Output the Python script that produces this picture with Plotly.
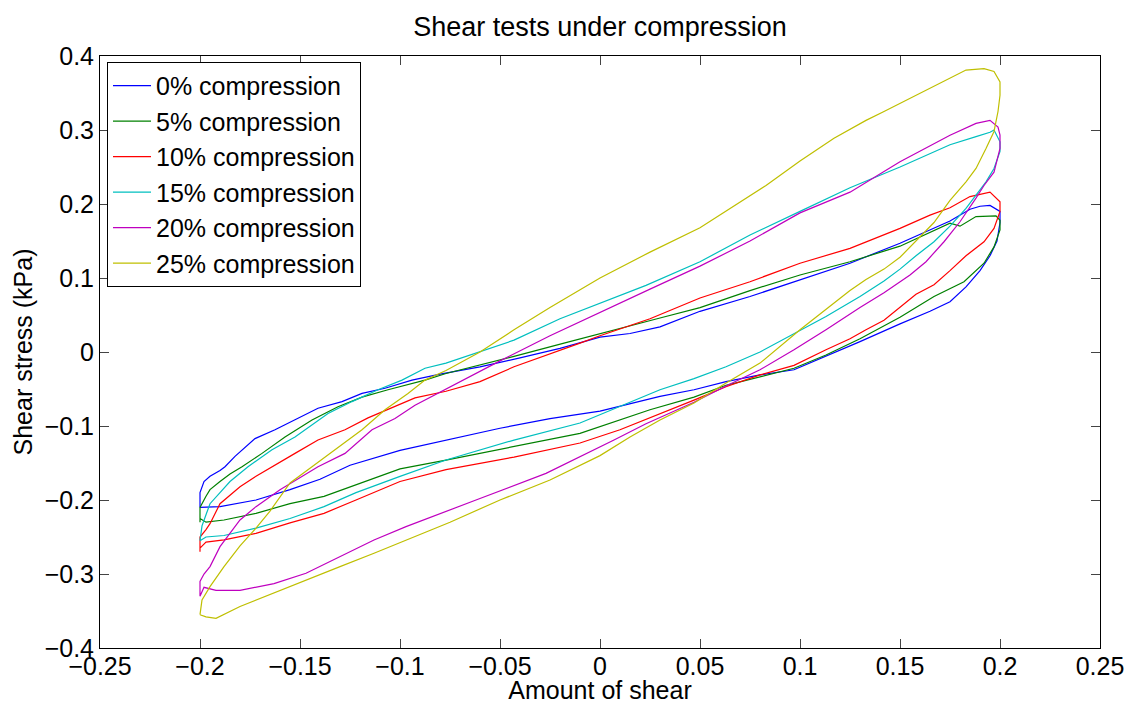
import plotly.graph_objects as go

# ---------------- data ----------------
series_names = ["0% compression", "5% compression", "10% compression",
                "15% compression", "20% compression", "25% compression"]
series_colors = ["#0000ff", "#008000", "#ff0000", "#00bfbf", "#bf00bf", "#bfbf00"]

x_tick_values = [-0.25, -0.2, -0.15, -0.1, -0.05, 0, 0.05, 0.1, 0.15, 0.2, 0.25]
x_tick_labels = ["\u22120.25", "\u22120.2", "\u22120.15", "\u22120.1", "\u22120.05", "0",
                 "0.05", "0.1", "0.15", "0.2", "0.25"]
y_tick_values = [-0.4, -0.3, -0.2, -0.1, 0, 0.1, 0.2, 0.3, 0.4]
y_tick_labels = ["\u22120.4", "\u22120.3", "\u22120.2", "\u22120.1", "0", "0.1", "0.2", "0.3", "0.4"]

# 0% compression
shear_0 = [-0.2, -0.2, -0.198, -0.195, -0.19, -0.1875, -0.1825, -0.1725, -0.1625, -0.1525,
           -0.141, -0.129, -0.119, -0.1075, -0.094, -0.08, -0.06, -0.04, -0.02, 0.0,
           0.015, 0.03, 0.05, 0.075, 0.1, 0.125, 0.15, 0.165, 0.175, 0.185, 0.19, 0.195, 0.2,
           0.2, 0.1985, 0.195, 0.19, 0.183, 0.175, 0.165, 0.15, 0.13, 0.113, 0.097, 0.08,
           0.063, 0.047, 0.03, 0.0, -0.025, -0.05, -0.077, -0.1, -0.125, -0.14, -0.155,
           -0.172, -0.19, -0.2]
stress_0 = [-0.21, -0.19, -0.175, -0.168, -0.16, -0.155, -0.141, -0.117, -0.105, -0.092,
            -0.076, -0.067, -0.056, -0.049, -0.038, -0.03, -0.02, -0.008, 0.005, 0.02,
            0.025, 0.034, 0.055, 0.075, 0.098, 0.12, 0.147, 0.165, 0.177, 0.193, 0.197, 0.198, 0.19,
            0.175, 0.15, 0.13, 0.11, 0.088, 0.068, 0.055, 0.038, 0.014, -0.006, -0.024, -0.031,
            -0.04, -0.051, -0.06, -0.08, -0.09, -0.103, -0.119, -0.133, -0.153, -0.172, -0.186,
            -0.2, -0.209, -0.21]

# 5% compression
shear_5 = [-0.2, -0.2, -0.197, -0.195, -0.19, -0.185, -0.179, -0.169, -0.1575, -0.144,
           -0.131, -0.119, -0.106, -0.0875, -0.077, -0.06, -0.043, -0.018, 0.0, 0.03,
           0.05, 0.075, 0.1, 0.125, 0.15, 0.165, 0.175, 0.18, 0.188, 0.198, 0.2,
           0.2, 0.197, 0.192, 0.182, 0.167, 0.15, 0.13, 0.113, 0.097, 0.08, 0.063, 0.047,
           0.025, -0.01, -0.043, -0.077, -0.1, -0.122, -0.138, -0.155, -0.172, -0.188,
           -0.197, -0.2]
stress_5 = [-0.23, -0.21, -0.195, -0.186, -0.175, -0.165, -0.155, -0.137, -0.115, -0.092,
            -0.074, -0.061, -0.051, -0.038, -0.029, -0.018, -0.006, 0.012, 0.025, 0.046,
            0.06, 0.083, 0.104, 0.122, 0.143, 0.162, 0.174, 0.17, 0.183, 0.184, 0.178,
            0.165, 0.142, 0.12, 0.095, 0.075, 0.047, 0.018, -0.004, -0.022, -0.034, -0.045, -0.061,
            -0.078, -0.11, -0.128, -0.146, -0.158, -0.18, -0.195, -0.205, -0.218, -0.227,
            -0.23, -0.225]

# 10% compression
shear_10 = [-0.2, -0.2, -0.197, -0.195, -0.19, -0.18, -0.172, -0.164, -0.1525, -0.141,
            -0.1275, -0.116, -0.1025, -0.0925, -0.077, -0.06, -0.043, -0.025, -0.01, 0.0,
            0.025, 0.05, 0.075, 0.1, 0.125, 0.15, 0.165, 0.175, 0.185, 0.195, 0.2,
            0.2, 0.197, 0.192, 0.183, 0.175, 0.167, 0.158, 0.15, 0.142, 0.133, 0.125, 0.113,
            0.097, 0.08, 0.063, 0.047, 0.03, 0.01, -0.01, -0.043, -0.077, -0.1, -0.122,
            -0.138, -0.155, -0.172, -0.188, -0.197, -0.2]
stress_10 = [-0.27, -0.25, -0.24, -0.232, -0.205, -0.182, -0.168, -0.155, -0.137, -0.119,
             -0.105, -0.089, -0.074, -0.062, -0.053, -0.04, -0.02, -0.003, 0.012, 0.022,
             0.045, 0.073, 0.095, 0.12, 0.14, 0.167, 0.185, 0.195, 0.21, 0.216, 0.203,
             0.19, 0.167, 0.149, 0.13, 0.11, 0.091, 0.078, 0.061, 0.043, 0.03, 0.018, 0.003,
             -0.018, -0.031, -0.047, -0.065, -0.083, -0.105, -0.123, -0.142, -0.159, -0.175, -0.2,
             -0.218, -0.231, -0.245, -0.254, -0.257, -0.265]

# 15% compression
shear_15 = [-0.2, -0.199, -0.197, -0.195, -0.19, -0.185, -0.176, -0.164, -0.1525, -0.136,
            -0.124, -0.111, -0.099, -0.0875, -0.077, -0.06, -0.043, -0.02, 0.0, 0.023,
            0.05, 0.075, 0.1, 0.125, 0.15, 0.175, 0.188, 0.195, 0.197, 0.2,
            0.2, 0.197, 0.193, 0.188, 0.183, 0.175, 0.167, 0.158, 0.15, 0.142, 0.13, 0.113,
            0.097, 0.08, 0.063, 0.047, 0.03, 0.015, -0.01, -0.043, -0.077, -0.1, -0.122,
            -0.138, -0.155, -0.172, -0.188, -0.197, -0.2]
stress_15 = [-0.255, -0.235, -0.22, -0.205, -0.19, -0.175, -0.155, -0.132, -0.115, -0.083,
             -0.067, -0.051, -0.038, -0.022, -0.015, 0.0, 0.016, 0.045, 0.066, 0.09,
             0.122, 0.158, 0.19, 0.222, 0.25, 0.28, 0.291, 0.297, 0.3, 0.284,
             0.271, 0.248, 0.23, 0.212, 0.194, 0.17, 0.149, 0.13, 0.112, 0.096, 0.075, 0.048,
             0.025, 0.0, -0.02, -0.036, -0.051, -0.068, -0.096, -0.119, -0.146, -0.168, -0.19,
             -0.209, -0.225, -0.238, -0.248, -0.25, -0.255]

# 20% compression
shear_20 = [-0.2, -0.2, -0.198, -0.195, -0.19, -0.18, -0.172, -0.16, -0.141, -0.1275,
            -0.114, -0.1025, -0.0925, -0.075, -0.05, -0.025, 0.0, 0.025, 0.05, 0.075,
            0.1, 0.125, 0.15, 0.175, 0.188, 0.195, 0.199, 0.2,
            0.2, 0.197, 0.192, 0.188, 0.18, 0.172, 0.163, 0.155, 0.142, 0.13, 0.113, 0.097,
            0.08, 0.063, 0.047, 0.023, 0.007, -0.027, -0.062, -0.08, -0.097, -0.113, -0.13,
            -0.147, -0.163, -0.18, -0.192, -0.198, -0.2]
stress_20 = [-0.33, -0.31, -0.3, -0.29, -0.263, -0.227, -0.209, -0.186, -0.155, -0.137,
             -0.105, -0.09, -0.072, -0.047, -0.012, 0.022, 0.054, 0.085, 0.116, 0.15,
             0.188, 0.216, 0.257, 0.293, 0.309, 0.313, 0.304, 0.293,
             0.275, 0.243, 0.225, 0.208, 0.176, 0.149, 0.122, 0.104, 0.08, 0.06, 0.03, 0.003,
             -0.024, -0.046, -0.068, -0.097, -0.119, -0.164, -0.2, -0.218, -0.236, -0.254, -0.277,
             -0.299, -0.313, -0.322, -0.322, -0.318, -0.33]

# 25% compression
shear_25 = [-0.2, -0.199, -0.195, -0.188, -0.18, -0.172, -0.165, -0.155, -0.144, -0.1325,
            -0.119, -0.1075, -0.096, -0.0875, -0.077, -0.06, -0.043, -0.025, -0.01, 0.0,
            0.025, 0.05, 0.083, 0.1, 0.117, 0.133, 0.142, 0.158, 0.175, 0.183, 0.192, 0.197,
            0.2, 0.2,
            0.199, 0.197, 0.193, 0.188, 0.183, 0.175, 0.167, 0.158, 0.15, 0.142, 0.133, 0.125,
            0.117, 0.1, 0.08, 0.063, 0.047, 0.03, 0.015, 0.0, -0.025, -0.05, -0.075, -0.1,
            -0.113, -0.13, -0.147, -0.163, -0.18, -0.192, -0.197, -0.2]
stress_25 = [-0.355, -0.335, -0.317, -0.29, -0.262, -0.238, -0.215, -0.177, -0.155, -0.132,
             -0.105, -0.078, -0.056, -0.038, -0.025, 0.0, 0.03, 0.06, 0.084, 0.1,
             0.135, 0.168, 0.225, 0.258, 0.289, 0.313, 0.325, 0.347, 0.37, 0.381, 0.383, 0.379,
             0.365, 0.347,
             0.325, 0.298, 0.275, 0.248, 0.23, 0.205, 0.175, 0.15, 0.128, 0.112, 0.098, 0.083,
             0.066, 0.03, -0.015, -0.042, -0.069, -0.092, -0.115, -0.14, -0.173, -0.2, -0.23, -0.258,
             -0.272, -0.29, -0.308, -0.326, -0.344, -0.36, -0.358, -0.355]

shear_data = [shear_0, shear_5, shear_10, shear_15, shear_20, shear_25]
stress_data = [stress_0, stress_5, stress_10, stress_15, stress_20, stress_25]

# ---------------- figure ----------------
FONT = "Liberation Sans, Arial, Helvetica, sans-serif"

fig = go.Figure()
for name, color, xs, ys in zip(series_names, series_colors, shear_data, stress_data):
    fig.add_trace(go.Scatter(x=xs, y=ys, mode="lines", name=name,
                             line=dict(color=color, width=1.2)))

axis_common = dict(
    showline=True, linecolor="black", linewidth=1, mirror="ticks",
    ticks="inside", ticklen=9, tickcolor="#444444", tickwidth=1,
    showgrid=False, zeroline=False, automargin=False,
    tickfont=dict(family=FONT, size=25, color="black"),
)

fig.update_layout(
    width=1135, height=704,
    margin=dict(l=100, r=35, t=56, b=56),
    paper_bgcolor="white", plot_bgcolor="white",
    font=dict(family=FONT, color="black", size=25),
    title=dict(text="Shear tests under compression", x=0.5, xref="paper", xanchor="center",
               y=1 - 27 / 704, yref="container", yanchor="middle",
               font=dict(family=FONT, size=27, color="black")),
    xaxis=dict(range=[-0.25, 0.25], tickvals=x_tick_values, ticktext=x_tick_labels,
               ticklabelstandoff=-4,
               title=dict(text="Amount of shear", font=dict(family=FONT, size=25), standoff=3),
               **axis_common),
    yaxis=dict(range=[-0.4, 0.4], tickvals=y_tick_values, ticktext=y_tick_labels,
               title=dict(text="Shear stress (kPa)", font=dict(family=FONT, size=25), standoff=4),
               **axis_common),
    legend=dict(x=0.007, y=0.99, xanchor="left", yanchor="top",
                bordercolor="black", borderwidth=1, bgcolor="white", itemwidth=38,
                font=dict(family=FONT, size=25, color="black"), tracegroupgap=0),
    showlegend=True,
)

fig.write_html("out.html")
